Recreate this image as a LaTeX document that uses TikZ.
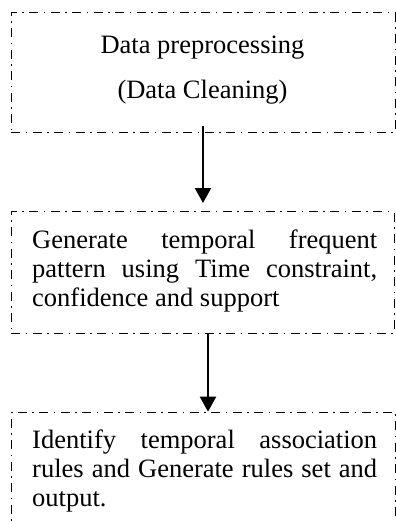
\documentclass[tikz,border=0pt]{standalone}
\usepackage{fontspec}
\setmainfont{Liberation Serif}
\usetikzlibrary{arrows.meta}

\tikzset{
  stagebox/.style={draw, line width=1pt, rectangle, inner sep=0pt,
    dash pattern=on 9pt off 5.5pt on 1.5pt off 5.5pt},
  boxtext/.style={inner sep=0pt, text width=345pt, align=justify,
    font=\fontsize{26.5}{29}\selectfont},
  centertext/.style={inner sep=0pt, font=\fontsize{26.5}{29}\selectfont},
  flow/.style={line width=2.2pt, -{Triangle[length=15pt,width=16pt]}}
}
% a line spread over the full text width, spaces stretched
\newcommand{\fullline}[1]{\spaceskip=0pt\xspaceskip=0pt\makebox[345pt][s]{#1}}

\begin{document}
\begin{tikzpicture}[x=1pt,y=-1pt]
  \useasboundingbox (0,0) rectangle (396,522);

  % stage frames
  \node[stagebox, minimum width=384pt, minimum height=119.3pt] (b1) at (203,72.35) {};
  \node[stagebox, minimum width=383pt, minimum height=121.3pt] (b2) at (202.5,272.35) {};
  \node[stagebox, minimum width=384pt, minimum height=150pt, anchor=north west] (b3) at (11,411.7) {};

  % stage texts
  \node[centertext, anchor=base] (t1a) at (202.5,53) {Data preprocessing};
  \node[centertext, anchor=base] (t1b) at (202.5,98) {(Data Cleaning)};
  \node[boxtext, anchor=base west] (t2) at (32,248)
    {\fullline{Generate temporal frequent}\\
     \fullline{pattern using Time constraint,}\\
     \spaceskip=0pt\xspaceskip=0pt confidence and support};
  \node[boxtext, anchor=base west] (t3) at (32,448)
    {\fullline{Identify temporal association}\\
     \fullline{rules and Generate rules set and}\\
     output.};

  % flow arrows
  \coordinate (a1s) at (203,126);
  \coordinate (a1e) at (203,203);
  \coordinate (a2s) at (208,333);
  \draw[flow] (a1s) -- (a1e);
  \draw[flow] (a2s) -- (a2s |- b3.north);
\end{tikzpicture}
\end{document}
